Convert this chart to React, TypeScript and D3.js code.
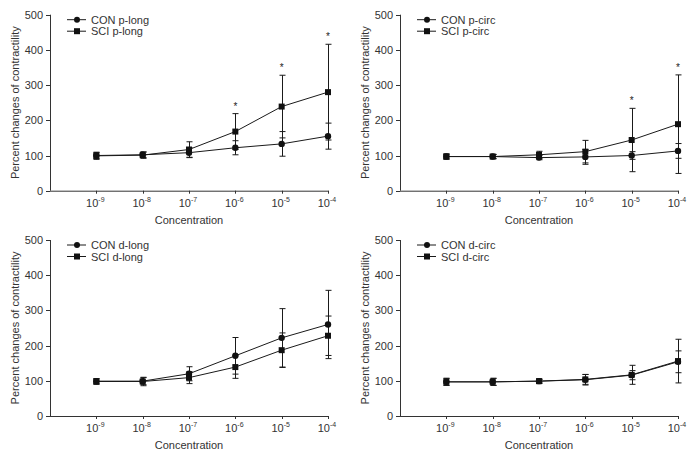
import React from "react";
import * as d3 from "d3";

const concExponents = ["-9", "-8", "-7", "-6", "-5", "-4"];
const yTicks = [0, 100, 200, 300, 400, 500];

const pLongConMean = [100, 102, 108, 122, 133, 155];
const pLongConSd = [9, 8, 14, 20, 35, 37];
const pLongSciMean = [99, 101, 117, 168, 239, 280];
const pLongSciSd = [10, 9, 22, 51, 89, 136];
const pLongStars = [false, false, false, true, true, true];

const pCircConMean = [97, 97, 94, 96, 100, 113];
const pCircConSd = [7, 6, 6, 21, 11, 21];
const pCircSciMean = [97, 97, 102, 111, 144, 189];
const pCircSciSd = [7, 6, 10, 32, 90, 140];
const pCircStars = [false, false, false, false, true, true];

const dLongConMean = [99, 99, 120, 171, 222, 260];
const dLongConSd = [7, 10, 20, 52, 83, 97];
const dLongSciMean = [98, 98, 109, 139, 187, 228];
const dLongSciSd = [8, 12, 17, 32, 49, 56];
const dLongStars = [false, false, false, false, false, false];

const dCircConMean = [97, 97, 99, 103, 116, 154];
const dCircConSd = [10, 10, 6, 15, 13, 31];
const dCircSciMean = [97, 97, 99, 104, 117, 156];
const dCircSciSd = [10, 10, 5, 14, 27, 62];
const dCircStars = [false, false, false, false, false, false];

const FONT = "'Liberation Sans', Arial, sans-serif";
const TXT = "#333";
const LINE = "#1a1a1a";

type PanelProps = {
  x0: number;
  yTop: number;
  conLabel: string;
  sciLabel: string;
  conMean: number[];
  conSd: number[];
  sciMean: number[];
  sciSd: number[];
  stars: boolean[];
};

function Panel(p: PanelProps) {
  const axisX = p.x0;
  const axisRight = p.x0 + 278;
  const yBottom = p.yTop + 176;
  const x = d3.scaleLinear().domain([-1, 5]).range([axisX, axisRight]);
  const y = d3.scaleLinear().domain([0, 500]).range([yBottom, p.yTop]);
  const idx = concExponents.map((_, i) => i);
  const conPts = idx.map((i) => [x(i), y(p.conMean[i])] as [number, number]);
  const sciPts = idx.map((i) => [x(i), y(p.sciMean[i])] as [number, number]);
  const lineGen = d3.line();
  const cap = 3;
  const errBars = (mean: number[], sd: number[], key: string) =>
    idx.map((i) => {
      const cx = Math.round(x(i)) + 0.5;
      const yh = y(mean[i] + sd[i]);
      const yl = y(mean[i] - sd[i]);
      return (
        <g key={key + i} stroke={LINE} strokeWidth={1}>
          <line x1={cx} x2={cx} y1={yh} y2={yl} />
          <line x1={cx - cap} x2={cx + cap} y1={yh} y2={yh} />
          <line x1={cx - cap} x2={cx + cap} y1={yl} y2={yl} />
        </g>
      );
    });
  const legX = axisX + 17;
  const legY1 = p.yTop + 5;
  const legY2 = p.yTop + 16.5;
  return (
    <g fontFamily={FONT}>
      <line x1={axisX + 0.5} x2={axisX + 0.5} y1={p.yTop} y2={yBottom} stroke={TXT} />
      <line x1={axisX} x2={axisRight + 0.5} y1={yBottom + 0.5} y2={yBottom + 0.5} stroke={TXT} />
      {yTicks.map((t) => (
        <g key={"yt" + t}>
          <line x1={axisX - 4} x2={axisX} y1={Math.round(y(t)) + 0.5} y2={Math.round(y(t)) + 0.5} stroke={TXT} />
          <text x={axisX - 7} y={y(t) + 4} fontSize={11} fill={TXT} textAnchor="end">
            {t}
          </text>
        </g>
      ))}
      {concExponents.map((e, i) => (
        <g key={"xt" + i}>
          <line x1={Math.round(x(i)) + 0.5} x2={Math.round(x(i)) + 0.5} y1={yBottom} y2={yBottom + 3} stroke={TXT} />
          <text x={x(i) - 1} y={yBottom + 16} fontSize={11} fill={TXT} textAnchor="middle">
            10
            <tspan fontSize={7} dy={-5}>
              {e}
            </tspan>
          </text>
        </g>
      ))}
      <text x={(axisX + axisRight) / 2} y={yBottom + 33} fontSize={11} fill={TXT} textAnchor="middle">
        Concentration
      </text>
      <text
        transform={`translate(${axisX - 31},${(p.yTop + yBottom) / 2}) rotate(-90)`}
        fontSize={11}
        fill={TXT}
        textAnchor="middle"
      >
        Percent changes of contractility
      </text>
      <path d={lineGen(conPts) || ""} fill="none" stroke={LINE} strokeWidth={1} />
      <path d={lineGen(sciPts) || ""} fill="none" stroke={LINE} strokeWidth={1} />
      {errBars(p.conMean, p.conSd, "ce")}
      {errBars(p.sciMean, p.sciSd, "se")}
      {conPts.map((pt, i) => (
        <circle key={"c" + i} cx={pt[0]} cy={pt[1]} r={3.2} fill="#111" />
      ))}
      {sciPts.map((pt, i) => (
        <rect key={"s" + i} x={pt[0] - 3} y={pt[1] - 3} width={6} height={6} fill="#111" />
      ))}
      {idx
        .filter((i) => p.stars[i])
        .map((i) => (
          <text
            key={"st" + i}
            x={x(i)}
            y={y(p.sciMean[i] + p.sciSd[i]) - 4}
            fontSize={10}
            fill="#222"
            textAnchor="middle"
          >
            *
          </text>
        ))}
      <line x1={legX} x2={legX + 19} y1={legY1} y2={legY1} stroke={LINE} />
      <circle cx={legX + 10} cy={legY1} r={3} fill="#111" />
      <text x={legX + 24} y={legY1 + 4} fontSize={11} fill={TXT}>
        {p.conLabel}
      </text>
      <line x1={legX} x2={legX + 19} y1={legY2} y2={legY2} stroke={LINE} />
      <rect x={legX + 7} y={legY2 - 3} width={6} height={6} fill="#111" />
      <text x={legX + 24} y={legY2 + 4} fontSize={11} fill={TXT}>
        {p.sciLabel}
      </text>
    </g>
  );
}

export default function App() {
  return (
    <svg
      width={697}
      height={456}
      style={{ position: "absolute", left: 0, top: 0, background: "#fff" }}
    >
      <rect width={697} height={456} fill="#fff" />
      <Panel
        x0={50}
        yTop={14.7}
        conLabel="CON p-long"
        sciLabel="SCI p-long"
        conMean={pLongConMean}
        conSd={pLongConSd}
        sciMean={pLongSciMean}
        sciSd={pLongSciSd}
        stars={pLongStars}
      />
      <Panel
        x0={400}
        yTop={14.7}
        conLabel="CON p-circ"
        sciLabel="SCI p-circ"
        conMean={pCircConMean}
        conSd={pCircConSd}
        sciMean={pCircSciMean}
        sciSd={pCircSciSd}
        stars={pCircStars}
      />
      <Panel
        x0={50}
        yTop={240}
        conLabel="CON d-long"
        sciLabel="SCI d-long"
        conMean={dLongConMean}
        conSd={dLongConSd}
        sciMean={dLongSciMean}
        sciSd={dLongSciSd}
        stars={dLongStars}
      />
      <Panel
        x0={400}
        yTop={240}
        conLabel="CON d-circ"
        sciLabel="SCI d-circ"
        conMean={dCircConMean}
        conSd={dCircConSd}
        sciMean={dCircSciMean}
        sciSd={dCircSciSd}
        stars={dCircStars}
      />
    </svg>
  );
}
